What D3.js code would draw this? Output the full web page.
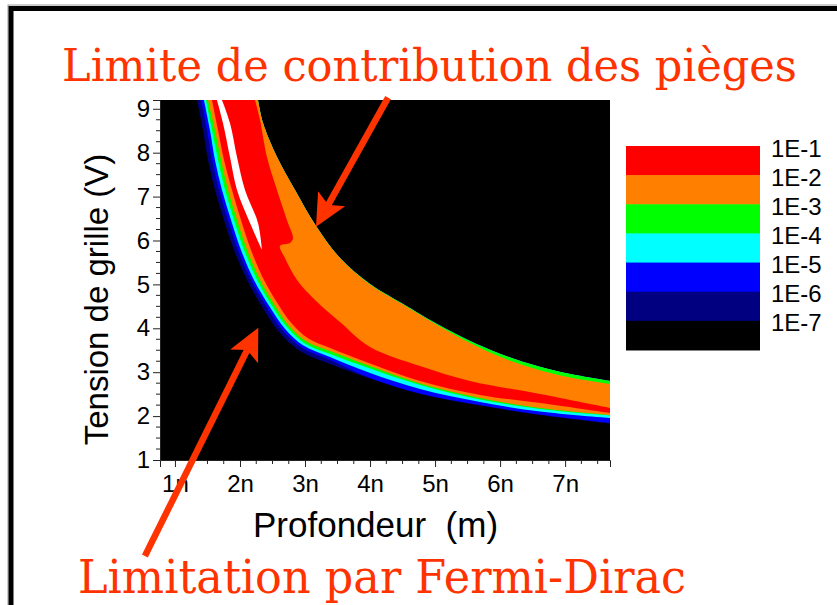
<!DOCTYPE html>
<html>
<head>
<meta charset="utf-8">
<script src="https://cdn.jsdelivr.net/npm/d3@7"></script>
<style>
  html, body { margin: 0; padding: 0; background: #fff; }
  svg { display: block; }
</style>
</head>
<body>
<svg id="chart" width="837" height="605"></svg>
<script>
// ---- contour levels (legend order, high to low) ----
const levelLabels = ["1E-1", "1E-2", "1E-3", "1E-4", "1E-5", "1E-6", "1E-7"];
const levelColors = ["#ff0000", "#ff8000", "#00ff00", "#00ffff", "#0000ff", "#000080", "#000000"];

// ---- axis ticks ----
const xTicks = [1, 2, 3, 4, 5, 6, 7];          // depth, nm
const yTicks = [1, 2, 3, 4, 5, 6, 7, 8, 9];    // gate voltage, V

// ---- level boundaries, [depth (nm), gate voltage (V)], from the top edge to the right edge ----
// lower (left) edges of each filled level
const navyEdge = [[1.338,9.20],[1.431,8.517],[1.508,7.834],[1.615,7.150],[1.754,6.467],[1.908,5.784],[2.108,5.100],[2.369,4.417],[2.615,3.893],[2.923,3.483],[3.385,3.187],[4.000,2.856],[4.769,2.503],[5.692,2.241],[6.615,2.025],[7.692,1.831]];
const blueEdge = [[1.400,9.20],[1.492,8.517],[1.569,7.834],[1.677,7.150],[1.815,6.467],[1.969,5.784],[2.169,5.100],[2.417,4.462],[2.658,3.948],[2.954,3.554],[3.385,3.278],[4.000,2.868],[4.769,2.515],[5.692,2.253],[6.615,2.036],[7.692,1.843]];
const cyanEdge = [[1.446,9.20],[1.538,8.517],[1.615,7.834],[1.723,7.150],[1.862,6.467],[2.015,5.784],[2.215,5.100],[2.454,4.494],[2.691,3.991],[2.975,3.608],[3.385,3.346],[4.000,2.982],[4.769,2.617],[5.692,2.321],[6.615,2.105],[7.692,1.957]];
const greenEdge = [[1.477,9.20],[1.569,8.517],[1.662,7.834],[1.769,7.150],[1.908,6.467],[2.062,5.784],[2.262,5.100],[2.486,4.526],[2.720,4.027],[2.995,3.656],[3.385,3.415],[4.000,3.084],[4.769,2.708],[5.692,2.378],[6.615,2.162],[7.692,2.014]];
const orangeEdge = [[1.508,9.20],[1.615,8.517],[1.708,7.834],[1.815,7.150],[1.954,6.467],[2.108,5.784],[2.308,5.100],[2.520,4.556],[2.748,4.066],[3.017,3.706],[3.385,3.483],[4.000,3.141],[4.769,2.743],[5.692,2.412],[6.615,2.185],[7.692,2.025]];
const redEdge = [[1.569,9.20],[1.662,8.517],[1.754,7.834],[1.877,7.150],[2.015,6.467],[2.169,5.784],[2.369,5.100],[2.565,4.597],[2.789,4.118],[3.045,3.772],[3.385,3.551],[4.000,3.198],[4.769,2.800],[5.692,2.481],[6.615,2.298],[7.692,2.071]];

// upper (right) edges
const outerEdge = [[2.277,9.20],[2.354,8.677],[2.569,7.902],[2.846,7.150],[3.169,6.330],[3.538,5.601],[4.000,5.009],[4.508,4.554],[5.031,4.098],[5.538,3.711],[6.046,3.392],[6.569,3.141],[7.077,2.959],[7.692,2.800]];
const orangeTop = [[2.277,9.20],[2.354,8.677],[2.569,7.902],[2.846,7.150],[3.169,6.330],[3.538,5.601],[4.000,4.998],[4.508,4.542],[5.031,4.075],[5.538,3.665],[6.046,3.323],[6.569,3.061],[7.077,2.879],[7.692,2.731]];
const redTop = [[2.231,9.20],[2.308,8.745],[2.415,7.902],[2.569,7.150],[2.738,6.399],[2.815,6.057],[2.769,5.943],[2.615,5.875],[2.692,5.601],[2.877,5.100],[3.154,4.645],[3.538,4.144],[4.000,3.574],[4.769,3.141],[5.538,2.800],[6.615,2.503],[7.692,2.185]];

// region above the highest level (left and right edges, top to tip)
const overLeft = [[1.646,9.20],[1.738,8.677],[1.846,7.902],[1.954,7.150],[2.154,6.399],[2.338,5.784]];
const overRight = [[1.723,9.20],[1.846,8.677],[1.954,7.902],[2.077,7.150],[2.277,6.399],[2.338,5.784]];

// ---- annotations: [tail, tip] in data units ----
const arrowTrap = [[4.277, 9.253], [3.169, 6.315]];
const arrowFermi = [[0.538, -1.187], [2.282, 4.014]];

// ---- layout ----
const svg = d3.select("#chart");
const plot = { left: 160, right: 610, top: 100, bottom: 460 };
const x = d3.scaleLinear().domain([0.77, 7.69]).range([plot.left, plot.right]);
const y = d3.scaleLinear().domain([1, 9.2]).range([plot.bottom, plot.top]);
const accent = "#ff3300";
const sans = "'Liberation Sans', Arial, sans-serif";
const serif = "'DejaVu Serif', serif";

// page frame
svg.append("rect").attr("x", 8).attr("y", 5).attr("width", 900).attr("height", 700)
  .attr("fill", "none").attr("stroke", "#9a9a9a").attr("stroke-width", 1);
svg.append("rect").attr("x", 11).attr("y", 8.5).attr("width", 900).attr("height", 700)
  .attr("fill", "none").attr("stroke", "#000").attr("stroke-width", 5);

// clip for the contour map
svg.append("defs").append("clipPath").attr("id", "plotClip")
  .append("rect").attr("x", plot.left).attr("y", plot.top)
  .attr("width", plot.right - plot.left).attr("height", plot.bottom - plot.top);

const map = svg.append("g").attr("clip-path", "url(#plotClip)");

// lowest level fills the whole map
map.append("rect").attr("x", plot.left).attr("y", plot.top)
  .attr("width", plot.right - plot.left).attr("height", plot.bottom - plot.top)
  .attr("fill", levelColors[6]);

const lineGen = d3.line().x(d => x(d[0])).y(d => y(d[1])).curve(d3.curveCatmullRom.alpha(0.5));
function band(lower, upper) {
  const a = lineGen(lower);
  const b = lineGen(upper.slice().reverse());
  return a + "L" + b.slice(1) + "Z";
}

const layers = [
  { lo: navyEdge,   hi: outerEdge, color: levelColors[5] },
  { lo: blueEdge,   hi: outerEdge, color: levelColors[4] },
  { lo: cyanEdge,   hi: outerEdge, color: levelColors[3] },
  { lo: greenEdge,  hi: outerEdge, color: levelColors[2] },
  { lo: orangeEdge, hi: orangeTop, color: levelColors[1] },
  { lo: redEdge,    hi: redTop,    color: levelColors[0] },
  { lo: overLeft,   hi: overRight, color: "#ffffff" }
];
map.selectAll("path.level").data(layers).join("path")
  .attr("class", "level")
  .attr("d", d => band(d.lo, d.hi))
  .attr("fill", d => d.color);

// ---- axes ----
const tickColor = "#222";
const yMinor = d3.range(1, 9.001, 0.25).filter(v => Math.abs(v - Math.round(v)) > 1e-6);
const xMinor = d3.range(1, 7.69, 0.25).filter(v => Math.abs(v - Math.round(v)) > 1e-6);

const gy = svg.append("g").attr("transform", `translate(${plot.left},0)`)
  .call(d3.axisLeft(y).tickValues(yTicks).tickSize(7).tickPadding(3).tickFormat(d3.format("d")));
gy.select(".domain").attr("stroke", tickColor);
gy.selectAll(".tick line").attr("stroke", tickColor);
gy.selectAll(".tick text").attr("font-family", sans).attr("font-size", 24).attr("fill", "#000");
gy.selectAll("line.minor").data(yMinor).join("line").attr("class", "minor")
  .attr("x1", 0).attr("x2", -4).attr("y1", d => y(d)).attr("y2", d => y(d)).attr("stroke", tickColor);

const gx = svg.append("g").attr("transform", `translate(0,${plot.bottom})`)
  .call(d3.axisBottom(x).tickValues(xTicks).tickSize(7).tickPadding(8).tickFormat(d => d + "n"));
gx.select(".domain").attr("stroke", tickColor);
gx.selectAll(".tick line").attr("stroke", tickColor);
gx.selectAll(".tick text").attr("font-family", sans).attr("font-size", 24).attr("fill", "#000");
gx.selectAll("line.minor").data(xMinor).join("line").attr("class", "minor")
  .attr("y1", 0).attr("y2", 4).attr("x1", d => x(d)).attr("x2", d => x(d)).attr("stroke", tickColor);

// axis titles
svg.append("text").attr("transform", "translate(108,299.5) rotate(-90)")
  .attr("text-anchor", "middle").attr("font-family", sans).attr("font-size", 33)
  .text("Tension de grille (V)");
svg.append("text").attr("x", 253).attr("y", 537)
  .attr("font-family", sans).attr("font-size", 35)
  .text("Profondeur\u00a0 (m)");

// ---- legend ----
const legendBand = 29.14;
const legend = svg.append("g");
legend.selectAll("rect").data(levelColors).join("rect")
  .attr("x", 626).attr("y", (d, i) => 146 + i * legendBand)
  .attr("width", 134).attr("height", legendBand + 0.5).attr("fill", d => d);
legend.selectAll("text").data(levelLabels).join("text")
  .attr("x", 771).attr("y", (d, i) => 148 + i * legendBand)
  .attr("dominant-baseline", "central")
  .attr("font-family", sans).attr("font-size", 24).text(d => d);

// ---- annotations ----
function arrow(pts) {
  const [t0, t1] = pts;
  const x0 = x(t0[0]), y0 = y(t0[1]), x1 = x(t1[0]), y1 = y(t1[1]);
  const len = Math.hypot(x1 - x0, y1 - y0);
  const ux = (x1 - x0) / len, uy = (y1 - y0) / len;
  const nx = -uy, ny = ux;
  const headLen = 32, half = 15.5, notch = 25;
  const g = svg.append("g");
  g.append("line").attr("x1", x0).attr("y1", y0)
    .attr("x2", x1 - ux * notch).attr("y2", y1 - uy * notch)
    .attr("stroke", accent).attr("stroke-width", 6.5);
  const bx = x1 - ux * headLen, by = y1 - uy * headLen;
  const head = [
    [x1, y1],
    [bx + nx * half, by + ny * half],
    [x1 - ux * notch, y1 - uy * notch],
    [bx - nx * half, by - ny * half]
  ];
  g.append("polygon").attr("points", head.map(p => p.join(",")).join(" ")).attr("fill", accent);
}
arrow(arrowTrap);
arrow(arrowFermi);

// headline labels
svg.append("text").attr("x", 62).attr("y", 81)
  .attr("font-family", serif).attr("font-size", 45).attr("fill", accent)
  .attr("textLength", 735).attr("lengthAdjust", "spacingAndGlyphs")
  .text("Limite de contribution des pièges");
svg.append("text").attr("x", 78).attr("y", 593)
  .attr("font-family", serif).attr("font-size", 47).attr("fill", accent)
  .attr("textLength", 608).attr("lengthAdjust", "spacingAndGlyphs")
  .text("Limitation par Fermi-Dirac");
</script>
</body>
</html>
